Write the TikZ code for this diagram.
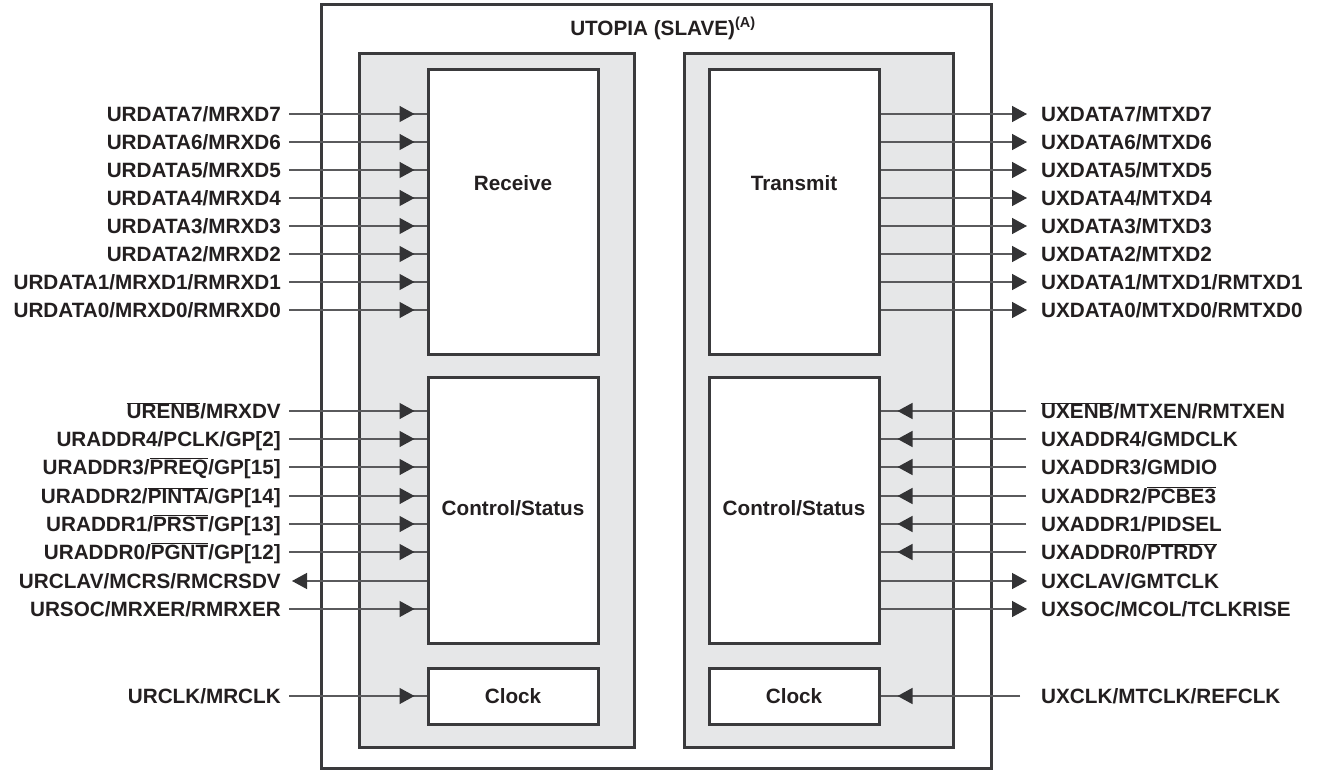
\documentclass[tikz,border=0pt]{standalone}
\usepackage{fontspec}
\setmainfont{Liberation Sans}
\usetikzlibrary{arrows.meta,decorations.markings}
\newcommand\ovl[1]{$\overline{\mbox{#1}}$}
\definecolor{boxc}{HTML}{3A3A3C}
\definecolor{grayc}{HTML}{E6E7E8}
\definecolor{sigc}{HTML}{5A5A5C}
\definecolor{arrc}{HTML}{333335}
\definecolor{txtc}{HTML}{231F20}
\begin{document}
\begin{tikzpicture}[x=1pt,y=-1pt,
  mytip/.tip={Triangle[length=15pt,width=16pt,color=arrc]},
  box/.style={draw=boxc,line width=3pt,fill=white,inner sep=0pt},
  grp/.style={draw=boxc,line width=3pt,fill=grayc,inner sep=0pt},
  lbl/.style={font=\bfseries\fontsize{20.7}{24}\selectfont,text=txtc,inner sep=0pt,text height=14.8pt,text depth=0pt},
  sig/.style={draw=sigc,line width=1.4pt},
  midarr/.style={postaction={decorate},decoration={markings,mark=at position #1 with {\arrow{mytip}}}}
]
\useasboundingbox (0,0) rectangle (1320,770);
\fill[white] (0,0) rectangle (1320,770);
% frames
\node[box,minimum width=670pt,minimum height=763pt] (outer) at (656,386.5) {};
\node[grp,minimum width=275pt,minimum height=693pt] (grayL) at (496.5,400.5) {};
\node[grp,minimum width=269pt,minimum height=693pt] (grayR) at (818.5,400.5) {};
\node[box,minimum width=170pt,minimum height=284pt] (recv) at (513,212) {};
\node[box,minimum width=170pt,minimum height=266pt] (rctl) at (513,510) {};
\node[box,minimum width=170pt,minimum height=56pt] (rclk) at (513,696) {};
\node[box,minimum width=170pt,minimum height=284pt] (xmit) at (794,212) {};
\node[box,minimum width=170pt,minimum height=266pt] (xctl) at (794,510) {};
\node[box,minimum width=170pt,minimum height=56pt] (xclk) at (794,696) {};
% box texts
\node[lbl] (title) at (663,28) {UTOPIA (SLAVE)\textsuperscript{(A)}};
\node[lbl] (trecv) at (513,183) {Receive};
\node[lbl] (txmit) at (794,183) {Transmit};
\node[lbl] (trctl) at (513,508) {Control/Status};
\node[lbl] (txctl) at (794,508) {Control/Status};
\node[lbl] (trclk) at (513,696) {Clock};
\node[lbl] (txclk) at (794,696) {Clock};
% left data labels
\node[lbl,anchor=east] (ld7) at (281,114) {URDATA7/MRXD7};
\node[lbl,anchor=east] (ld6) at (281,142) {URDATA6/MRXD6};
\node[lbl,anchor=east] (ld5) at (281,170) {URDATA5/MRXD5};
\node[lbl,anchor=east] (ld4) at (281,198) {URDATA4/MRXD4};
\node[lbl,anchor=east] (ld3) at (281,226) {URDATA3/MRXD3};
\node[lbl,anchor=east] (ld2) at (281,254) {URDATA2/MRXD2};
\node[lbl,anchor=east] (ld1) at (281,282) {URDATA1/MRXD1/RMRXD1};
\node[lbl,anchor=east] (ld0) at (281,310) {URDATA0/MRXD0/RMRXD0};
% left control labels
\node[lbl,anchor=east] (lc1) at (281,411) {\ovl{URENB}/MRXDV};
\node[lbl,anchor=east] (lc2) at (281,439) {URADDR4/PCLK/GP[2]};
\node[lbl,anchor=east] (lc3) at (281,467) {URADDR3/\ovl{PREQ}/GP[15]};
\node[lbl,anchor=east] (lc4) at (281,496) {URADDR2/\ovl{PINTA}/GP[14]};
\node[lbl,anchor=east] (lc5) at (281,524) {URADDR1/\ovl{PRST}/GP[13]};
\node[lbl,anchor=east] (lc6) at (281,552) {URADDR0/\ovl{PGNT}/GP[12]};
\node[lbl,anchor=east] (lc7) at (281,581) {URCLAV/MCRS/RMCRSDV};
\node[lbl,anchor=east] (lc8) at (281,609) {URSOC/MRXER/RMRXER};
\node[lbl,anchor=east] (lck) at (281,696) {URCLK/MRCLK};
% right data labels
\node[lbl,anchor=west] (rd7) at (1041,114) {UXDATA7/MTXD7};
\node[lbl,anchor=west] (rd6) at (1041,142) {UXDATA6/MTXD6};
\node[lbl,anchor=west] (rd5) at (1041,170) {UXDATA5/MTXD5};
\node[lbl,anchor=west] (rd4) at (1041,198) {UXDATA4/MTXD4};
\node[lbl,anchor=west] (rd3) at (1041,226) {UXDATA3/MTXD3};
\node[lbl,anchor=west] (rd2) at (1041,254) {UXDATA2/MTXD2};
\node[lbl,anchor=west] (rd1) at (1041,282) {UXDATA1/MTXD1/RMTXD1};
\node[lbl,anchor=west] (rd0) at (1041,310) {UXDATA0/MTXD0/RMTXD0};
% right control labels
\node[lbl,anchor=west] (rc1) at (1041,411) {\ovl{UXENB}/MTXEN/RMTXEN};
\node[lbl,anchor=west] (rc2) at (1041,439) {UXADDR4/GMDCLK};
\node[lbl,anchor=west] (rc3) at (1041,467) {UXADDR3/GMDIO};
\node[lbl,anchor=west] (rc4) at (1041,496) {UXADDR2/\ovl{PCBE3}};
\node[lbl,anchor=west] (rc5) at (1041,524) {UXADDR1/PIDSEL};
\node[lbl,anchor=west] (rc6) at (1041,552) {UXADDR0/\ovl{PTRDY}};
\node[lbl,anchor=west] (rc7) at (1041,581) {UXCLAV/GMTCLK};
\node[lbl,anchor=west] (rc8) at (1041,609) {UXSOC/MCOL/TCLKRISE};
\node[lbl,anchor=west] (rck) at (1041,696) {UXCLK/MTCLK/REFCLK};
% left data connectors
\foreach \n in {ld7,ld6,ld5,ld4,ld3,ld2,ld1,ld0}
  \draw[sig,midarr=-12pt] ([xshift=8pt]\n.east) -- (\n.east -| recv.west);
% left control connectors
\foreach \n in {lc1,lc2,lc3,lc4,lc5,lc6,lc8}
  \draw[sig,midarr=-12pt] ([xshift=8pt]\n.east) -- (\n.east -| rctl.west);
\draw[sig,-mytip] (lc7.east -| rctl.west) -- ([xshift=11pt]lc7.east);
\draw[sig,midarr=-12pt] ([xshift=8pt]lck.east) -- (lck.east -| rclk.west);
% right data connectors
\foreach \n in {rd7,rd6,rd5,rd4,rd3,rd2,rd1,rd0}
  \draw[sig,-mytip] (\n.west -| xmit.east) -- ([xshift=-14pt]\n.west);
% right control connectors
\foreach \n in {rc1,rc2,rc3,rc4,rc5,rc6}
  \draw[sig,midarr=-17pt] ([xshift=-15pt]\n.west) -- (\n.west -| xctl.east);
\foreach \n in {rc7,rc8}
  \draw[sig,-mytip] (\n.west -| xctl.east) -- ([xshift=-14pt]\n.west);
\draw[sig,midarr=-17pt] ([xshift=-21pt]rck.west) -- (rck.west -| xclk.east);
\end{tikzpicture}
\end{document}
